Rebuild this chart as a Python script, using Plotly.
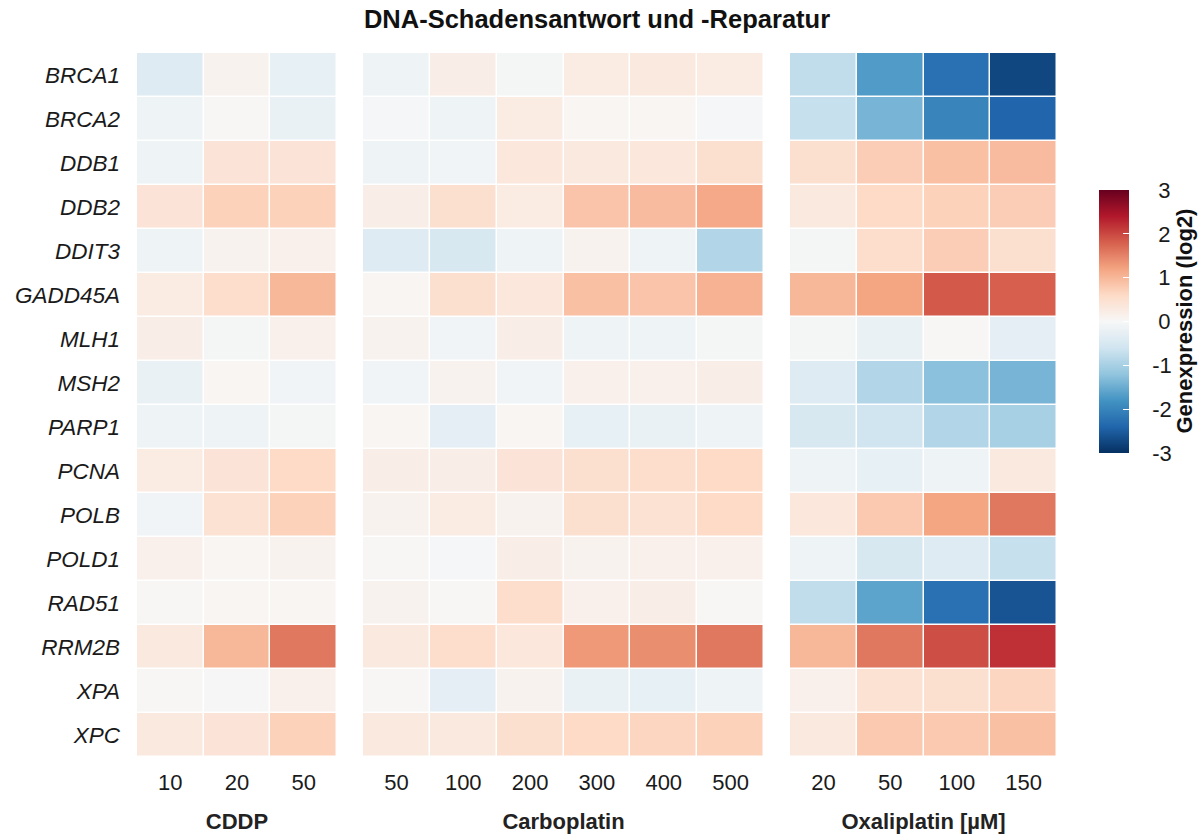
import plotly.graph_objects as go

genes = ["BRCA1", "BRCA2", "DDB1", "DDB2", "DDIT3", "GADD45A", "MLH1", "MSH2",
         "PARP1", "PCNA", "POLB", "POLD1", "RAD51", "RRM2B", "XPA", "XPC"]

cddp_doses = ["10", "20", "50"]
carbo_doses = ["50", "100", "200", "300", "400", "500"]
oxali_doses = ["20", "50", "100", "150"]

# log2 fold change per gene (rows) and dose (columns)
cddp_values = [
    [-0.40, 0.10, -0.25],
    [-0.15, 0.02, -0.20],
    [-0.15, 0.40, 0.40],
    [0.40, 0.70, 0.70],
    [-0.15, 0.10, 0.15],
    [0.25, 0.55, 1.00],
    [0.20, -0.05, 0.15],
    [-0.20, 0.05, -0.10],
    [-0.15, -0.15, -0.05],
    [0.25, 0.40, 0.60],
    [-0.10, 0.45, 0.70],
    [0.15, 0.05, 0.10],
    [0.02, 0.05, 0.05],
    [0.30, 1.00, 1.60],
    [0.02, -0.02, 0.15],
    [0.30, 0.40, 0.70],
]

carbo_values = [
    [-0.15, 0.20, -0.05, 0.25, 0.30, 0.25],
    [-0.03, -0.15, 0.25, 0.05, 0.05, -0.03],
    [-0.15, -0.10, 0.35, 0.30, 0.35, 0.50],
    [0.20, 0.50, 0.25, 0.85, 0.95, 1.15],
    [-0.40, -0.50, -0.15, 0.10, -0.15, -0.90],
    [0.05, 0.50, 0.35, 0.90, 0.85, 1.05],
    [0.10, -0.10, 0.20, -0.15, -0.15, -0.05],
    [-0.10, 0.10, -0.10, 0.15, 0.15, 0.20],
    [0.05, -0.30, 0.05, -0.25, -0.20, -0.15],
    [0.20, 0.20, 0.40, 0.50, 0.55, 0.60],
    [0.10, 0.25, 0.10, 0.50, 0.45, 0.60],
    [0.02, -0.03, 0.20, 0.10, 0.15, 0.15],
    [0.10, 0.03, 0.55, 0.15, 0.20, 0.02],
    [0.30, 0.55, 0.35, 1.30, 1.40, 1.60],
    [0.03, -0.30, 0.10, -0.20, -0.25, -0.15],
    [0.30, 0.30, 0.50, 0.60, 0.65, 0.70],
]

oxali_values = [
    [-0.75, -1.70, -2.25, -2.75],
    [-0.70, -1.40, -2.00, -2.40],
    [0.50, 0.75, 0.90, 0.95],
    [0.30, 0.60, 0.70, 0.75],
    [-0.05, 0.55, 0.75, 0.50],
    [1.00, 1.20, 1.85, 1.80],
    [-0.05, -0.20, 0.03, -0.30],
    [-0.40, -0.90, -1.25, -1.40],
    [-0.50, -0.60, -0.90, -1.00],
    [-0.15, -0.25, -0.15, 0.30],
    [0.35, 0.80, 1.20, 1.60],
    [-0.15, -0.50, -0.40, -0.70],
    [-0.75, -1.60, -2.25, -2.60],
    [1.00, 1.60, 1.95, 2.20],
    [0.15, 0.45, 0.50, 0.65],
    [0.30, 0.80, 0.80, 0.90],
]

colorbar_ticks = [3, 2, 1, 0, -1, -2, -3]

# ColorBrewer RdBu, blue for negative and red for positive values
rdbu = ["#053061", "#2166ac", "#4393c3", "#92c5de", "#d1e5f0", "#f7f7f7",
        "#fddbc7", "#f4a582", "#d6604d", "#b2182b", "#67001f"]
colorscale = [[i / (len(rdbu) - 1), c] for i, c in enumerate(rdbu)]

FONT = "Liberation Sans, Arial, sans-serif"
TXT = "#1a1a1a"

W, H = 1198, 835
L, R, T, B = 137, 141, 53, 78
pw = W - L - R
ph = H - T - B

# colour bar geometry (pixels)
CB_LEFT, CB_TOP, CB_BOTTOM = 1099, 190, 453
cb_y = 1 - ((CB_TOP + CB_BOTTOM) / 2 - T) / ph


def cb_label(v):
    # pad so that the digits line up; the minus sign takes the place of one pad
    pad = "\u00a0" * (3 if v < 0 else 4)
    return pad + str(v)


panels = [
    ("x", cddp_doses, cddp_values, "CDDP", (0, 200)),
    ("x2", carbo_doses, carbo_values, "Carboplatin", (226, 627)),
    ("x3", oxali_doses, oxali_values, "Oxaliplatin [µM]", (653, 920)),
]

fig = go.Figure()
layout_axes = {}
for i, (xa, doses, vals, title, (a, b)) in enumerate(panels):
    fig.add_trace(go.Heatmap(
        z=vals, x=doses, y=genes,
        xaxis=xa, yaxis="y",
        zmin=-3, zmax=3, colorscale=colorscale,
        xgap=1.5, ygap=1.5,
        showscale=(i == 0),
        colorbar=dict(
            x=(CB_LEFT - L) / pw, xanchor="left", xref="paper", xpad=0,
            y=cb_y, yanchor="middle", ypad=0,
            len=(CB_BOTTOM - CB_TOP) / ph, lenmode="fraction",
            thickness=30, outlinewidth=0,
            tickvals=colorbar_ticks,
            ticktext=[cb_label(t) for t in colorbar_ticks],
            ticks="inside", tickcolor="white", ticklen=6, tickwidth=1,
            tickfont=dict(family=FONT, size=22, color=TXT),
        ) if i == 0 else None,
        hovertemplate="%{y}<br>%{x}: %{z:.2f}<extra></extra>",
    ))
    key = "xaxis" if xa == "x" else "xaxis" + xa[1:]
    layout_axes[key] = dict(
        domain=[a / pw, b / pw], anchor="y", automargin=False,
        type="category", showgrid=False, zeroline=False, ticks="",
        ticklabelstandoff=10,
        tickfont=dict(family=FONT, size=22, color=TXT),
        title=dict(text="<b>" + title + "</b>", standoff=19,
                   font=dict(family=FONT, size=22, color="#222")),
    )

fig.update_layout(
    width=W, height=H,
    margin=dict(l=L, r=R, t=T, b=B, autoexpand=False),
    paper_bgcolor="white", plot_bgcolor="white",
    title=dict(text="<b>DNA-Schadensantwort und -Reparatur</b>",
               x=0.5, xref="paper", xanchor="center",
               y=1 - 19 / H, yanchor="middle",
               font=dict(family=FONT, size=25.5, color="#111")),
    yaxis=dict(type="category", autorange="reversed", showgrid=False,
               zeroline=False, ticks="", ticklabelstandoff=16,
               automargin=False,
               tickfont=dict(family=FONT, size=22.5, color=TXT,
                             style="italic")),
    annotations=[dict(
        text="<b>Genexpression (log2)</b>", textangle=-90,
        xref="paper", yref="paper",
        x=(1184 - L) / pw, y=cb_y, xanchor="center", yanchor="middle",
        showarrow=False, borderpad=0,
        font=dict(family=FONT, size=22, color="#111"),
    )],
    **layout_axes,
)

fig.write_html("out.html")
